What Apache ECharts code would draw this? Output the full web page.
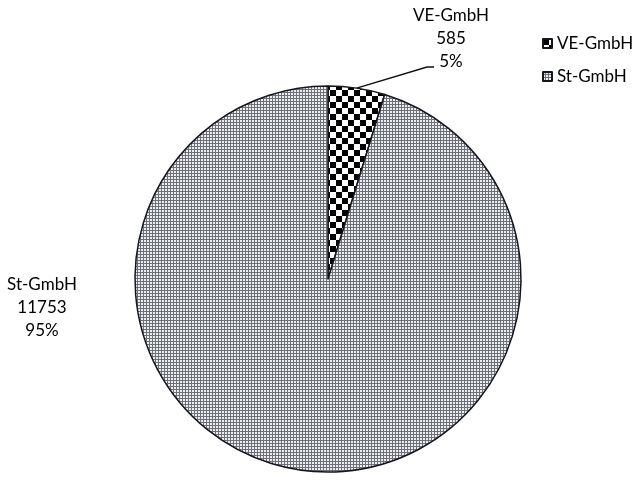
<!DOCTYPE html>
<html>
<head>
<meta charset="utf-8">
<script src="https://cdn.jsdelivr.net/npm/echarts@6/dist/echarts.min.js"></script>
<style>
html,body{margin:0;padding:0;background:#fff;}
#chart{width:640px;height:484px;}
</style>
</head>
<body>
<div id="chart"></div>
<script>
var categories = ['VE-GmbH', 'St-GmbH'];
var values = [585, 11753];

function checkerPattern() {
  var c = document.createElement('canvas');
  var s = 6;
  c.width = s * 2; c.height = s * 2;
  var g = c.getContext('2d');
  g.fillStyle = '#ffffff'; g.fillRect(0, 0, s * 2, s * 2);
  g.fillStyle = '#000000';
  g.fillRect(0, 0, s, s);
  g.fillRect(s, s, s, s);
  return c;
}
function dotPattern() {
  var c = document.createElement('canvas');
  c.width = 3; c.height = 3;
  var g = c.getContext('2d');
  g.fillStyle = '#6c7079'; g.fillRect(0, 0, 3, 3);
  g.fillStyle = '#eeeeee'; g.fillRect(0, 0, 2, 2);
  return c;
}
var fills = [
  { image: checkerPattern(), repeat: 'repeat' },
  { image: dotPattern(), repeat: 'repeat' }
];

var chart = echarts.init(document.getElementById('chart'));
var fontFamily = 'Lato, "Open Sans", sans-serif';

chart.setOption({
  animation: false,
  legend: {
    orient: 'vertical',
    left: 537,
    top: 28,
    itemWidth: 9,
    itemHeight: 9,
    itemGap: 12,
    icon: 'rect',
    data: categories,
    textStyle: { fontFamily: fontFamily, fontSize: 17, color: '#000', lineHeight: 21, padding: [0, 0, 0, 0] }
  },
  series: [{
    type: 'pie',
    center: [328, 279],
    radius: 193,
    startAngle: 90,
    clockwise: true,
    itemStyle: { borderColor: '#15151f', borderWidth: 1.5 },
    emphasis: { disabled: true },
    label: {
      show: true,
      position: 'outside',
      fontFamily: fontFamily,
      fontSize: 17,
      lineHeight: 23,
      color: '#000',
      align: 'center',
      formatter: function (p) { return p.name + '\n' + p.value + '\n' + Math.round(p.percent) + '%'; }
    },
    labelLine: { show: true, length: 10, length2: 10, lineStyle: { color: '#111', width: 1.5 } },
    labelLayout: function (p) {
      if (p.dataIndex === 0) {
        var start = p.labelLinePoints ? p.labelLinePoints[0] : [357, 87];
        return {
          x: 451, y: 39, align: 'center', verticalAlign: 'middle',
          labelLinePoints: [start, [427, 67], [434, 67]]
        };
      }
      return { x: 42, y: 308, align: 'center', verticalAlign: 'middle' };
    },
    data: categories.map(function (name, i) {
      return {
        name: name,
        value: values[i],
        itemStyle: { color: fills[i] },
        labelLine: { show: i === 0 }
      };
    })
  }]
});
</script>
</body>
</html>
